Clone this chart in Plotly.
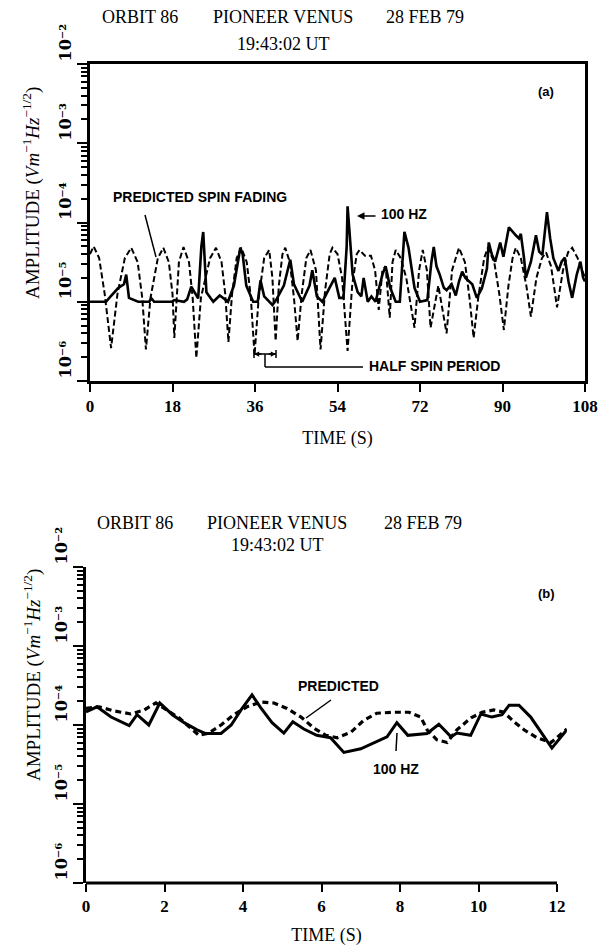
import plotly.graph_objects as go

# ---------------- data ----------------
# Panel (a): 0-108 s
time_pred_a = [0.0, 0.8, 2.0, 3.2, 4.6, 6.0, 7.6, 9.0, 10.4, 11.4, 12.2, 13.2, 14.8, 16.0, 17.2, 18.0,
               18.4, 18.8, 19.4, 20.4, 21.6, 22.4, 23.2, 24.2, 26.2, 27.5, 28.7, 29.5, 30.2, 31.0, 32.0,
               33.0, 34.2, 35.1, 35.9, 36.8, 38.0, 39.1, 39.8, 40.5, 41.2, 42.0, 42.6, 43.6, 44.5, 45.3,
               46.2, 47.2, 48.1, 49.3, 50.3, 51.3, 52.3, 52.9, 54.0, 55.0, 56.2, 57.2, 58.2, 58.8, 60.0,
               61.3, 62.2, 63.0, 63.8, 64.5, 65.4, 66.0, 66.7, 67.8, 69.0, 70.8, 71.8, 72.6, 73.5, 74.3,
               76.0, 77.8, 79.0, 80.5, 81.8, 82.8, 83.7, 84.7, 86.0, 86.8, 88.2, 89.3, 90.3, 91.3, 92.2,
               92.9, 94.0, 95.2, 96.2, 97.4, 98.6, 99.5, 100.6, 101.9, 103.2, 104.3, 105.2, 106.4, 108.0]
amp_pred_a = [4.0e-5, 5.0e-5, 3.55e-5, 1.26e-5, 2.6e-6, 1.26e-5, 3.55e-5, 4.8e-5, 3.16e-5, 1.12e-5,
              2.5e-6, 1.12e-5, 3.55e-5, 4.8e-5, 3.16e-5, 1.26e-5, 3.5e-6, 1.0e-5, 3.16e-5, 4.9e-5,
              3.16e-5, 1.12e-5, 1.95e-6, 1.12e-5, 3.55e-5, 4.8e-5, 3.16e-5, 1.26e-5, 3.1e-6, 1.26e-5,
              3.55e-5, 4.8e-5, 3.16e-5, 1.12e-5, 2.1e-6, 1.12e-5, 3.55e-5, 4.5e-5, 2.0e-5, 3.2e-6,
              1.6e-5, 4.0e-5, 4.8e-5, 3.16e-5, 1.12e-5, 3.2e-6, 1.26e-5, 3.55e-5, 4.5e-5, 2.5e-5,
              2.5e-6, 1.4e-5, 4.0e-5, 4.8e-5, 4.0e-5, 2.0e-5, 2.4e-6, 1.6e-5, 4.0e-5, 4.5e-5,
              3.8e-5, 3.8e-5, 2.5e-5, 7.9e-6, 2.5e-5, 2.8e-5, 6.3e-6, 3.16e-5, 4.5e-5, 3.55e-5,
              2.0e-5, 4.7e-6, 2.5e-5, 4.5e-5, 2.5e-5, 4.7e-6, 1.6e-5, 4.0e-6, 2.5e-5, 4.8e-5,
              3.16e-5, 1.12e-5, 3.5e-6, 1.12e-5, 3.55e-5, 4.8e-5, 3.16e-5, 1.26e-5, 4.4e-6, 1.6e-5,
              3.55e-5, 4.8e-5, 3.55e-5, 1.6e-5, 6.5e-6, 2.0e-5, 3.55e-5, 4.2e-5, 2.8e-5, 8.5e-6,
              2.5e-5, 4.2e-5, 4.8e-5, 3.55e-5, 2.0e-5]

time_meas_a = [0.0, 3.5, 4.5, 6.1, 7.4, 7.9, 8.5, 10.5, 12.9, 13.4, 14.0, 17.8, 18.4, 20.5, 21.2, 22.1,
               23.6, 24.3, 24.7, 25.4, 26.9, 28.3, 29.2, 30.1, 31.4, 32.8, 33.3, 34.1, 35.6, 36.6, 37.2,
               38.0, 39.8, 40.6, 42.3, 43.7, 44.5, 46.3, 47.9, 48.5, 49.5, 50.7, 52.0, 53.4, 54.4, 55.3,
               56.0, 56.2, 56.6, 57.3, 58.4, 59.2, 59.7, 60.6, 61.4, 62.3, 63.8, 64.5, 65.5, 66.7, 67.6,
               68.3, 68.6, 69.5, 70.8, 72.0, 73.6, 74.5, 75.0, 75.6, 76.3, 77.2, 77.8, 78.9, 79.8, 80.5,
               81.2, 81.9, 83.4, 84.4, 85.5, 86.6, 87.0, 87.7, 88.4, 89.5, 90.2, 91.4, 92.2, 92.9, 93.6,
               94.0, 94.7, 95.1, 96.2, 97.3, 98.0, 98.7, 99.7, 100.4, 101.1, 102.2, 102.9, 103.6, 104.4,
               105.2, 106.2, 107.0, 107.6, 108.0]
amp_meas_a = [1.0e-5, 1.0e-5, 1.17e-5, 1.48e-5, 1.66e-5, 2.2e-5, 1.12e-5, 1.0e-5, 1.0e-5, 1.1e-5,
              1.0e-5, 1.0e-5, 1.05e-5, 1.0e-5, 1.07e-5, 1.55e-5, 1.1e-5, 5.0e-5, 7.6e-5, 1.32e-5,
              1.0e-5, 1.2e-5, 1.1e-5, 1.0e-5, 1.6e-5, 4.8e-5, 4.0e-5, 1.6e-5, 1.0e-5, 1.0e-5,
              1.86e-5, 1.17e-5, 9.1e-6, 1.05e-5, 1.6e-5, 3.4e-5, 1.66e-5, 1.0e-5, 1.6e-5, 2.5e-5,
              1.17e-5, 1.0e-5, 1.4e-5, 2.0e-5, 1.12e-5, 1.12e-5, 5.0e-5, 1.6e-4, 7.9e-5, 2.2e-5,
              1.32e-5, 1.17e-5, 2.0e-5, 1.0e-5, 1.17e-5, 1.0e-5, 2.2e-5, 2.8e-5, 1.5e-5, 1.0e-5,
              1.0e-5, 5.0e-5, 7.6e-5, 4.8e-5, 1.5e-5, 1.0e-5, 1.05e-5, 3.2e-5, 4.9e-5, 2.8e-5,
              2.2e-5, 1.5e-5, 1.4e-5, 1.66e-5, 1.2e-5, 1.8e-5, 2.4e-5, 2.0e-5, 1.66e-5, 1.12e-5,
              1.48e-5, 2.6e-5, 5.6e-5, 3.9e-5, 3.2e-5, 5.6e-5, 3.7e-5, 8.7e-5, 7.6e-5, 6.9e-5,
              6.3e-5, 7.2e-5, 3.55e-5, 2.0e-5, 3.2e-5, 6.9e-5, 4.3e-5, 3.9e-5, 1.35e-4, 6.3e-5,
              3.55e-5, 2.45e-5, 3.2e-5, 3.6e-5, 1.8e-5, 1.12e-5, 2.2e-5, 3.2e-5, 2.0e-5, 1.8e-5]

# Panel (b): 0-12 s
time_meas_b = [0.0, 0.28, 0.64, 1.1, 1.3, 1.6, 1.88, 2.2, 2.5, 2.83, 3.05, 3.44, 3.7, 3.95, 4.23, 4.45,
               4.74, 5.04, 5.27, 5.55, 5.88, 6.23, 6.57, 7.0, 7.67, 7.92, 8.2, 8.69, 8.99, 9.3, 9.45,
               9.8, 10.06, 10.34, 10.6, 10.78, 11.03, 11.33, 11.87, 12.25]
amp_meas_b = [1.46e-4, 1.7e-4, 1.26e-4, 9.8e-5, 1.35e-4, 1.0e-4, 1.9e-4, 1.35e-4, 1.07e-4, 8.7e-5,
              7.8e-5, 7.8e-5, 1.0e-4, 1.55e-4, 2.4e-4, 1.66e-4, 1.07e-4, 7.9e-5, 1.1e-4, 8.9e-5,
              7.4e-5, 6.9e-5, 4.5e-5, 5.0e-5, 7.1e-5, 1.07e-4, 7.4e-5, 7.8e-5, 1.02e-4, 7.1e-5,
              7.9e-5, 7.4e-5, 1.38e-4, 1.26e-4, 1.35e-4, 1.78e-4, 1.78e-4, 1.26e-4, 5.1e-5, 8.7e-5]

time_pred_b = [0.0, 0.33, 0.71, 1.14, 1.48, 1.78, 2.06, 2.37, 2.67, 2.88, 3.13, 3.44, 3.77, 4.1, 4.46,
               4.79, 5.12, 5.48, 5.81, 6.11, 6.4, 6.75, 7.08, 7.41, 7.85, 8.23, 8.53, 8.69, 8.94, 9.2,
               9.45, 9.81, 10.09, 10.39, 10.65, 10.9, 11.16, 11.49, 11.85, 12.25]
amp_pred_b = [1.62e-4, 1.7e-4, 1.51e-4, 1.38e-4, 1.55e-4, 1.9e-4, 1.55e-4, 1.23e-4, 9.1e-5, 7.4e-5,
              7.9e-5, 1.0e-4, 1.35e-4, 1.7e-4, 1.95e-4, 1.9e-4, 1.62e-4, 1.26e-4, 9.1e-5, 7.4e-5,
              6.9e-5, 8.1e-5, 1.15e-4, 1.41e-4, 1.45e-4, 1.45e-4, 1.26e-4, 8.7e-5, 6.5e-5, 6.0e-5,
              8.7e-5, 1.23e-4, 1.45e-4, 1.55e-4, 1.45e-4, 1.1e-4, 8.7e-5, 6.9e-5, 6.0e-5, 8.9e-5]

x_ticks_a = [0, 18, 36, 54, 72, 90, 108]
x_ticks_b = [0, 2, 4, 6, 8, 10, 12]
y_ticks = [1e-6, 1e-5, 1e-4, 1e-3, 1e-2]
y_ticktext = ["10⁻⁶", "10⁻⁵", "10⁻⁴", "10⁻³", "10⁻²"]
y_minor = [m * d for d in y_ticks[:-1] for m in range(2, 10)]

# ---------------- layout helpers ----------------
W, H = 609, 946
def P(x):  # page pixel x -> paper
    return x / W
def Q(y):  # page pixel y -> paper
    return 1 - y / H

SERIF = "Liberation Serif"
SANS = "Liberation Sans"
BLACK = "black"

fig = go.Figure()
fig.add_trace(go.Scatter(x=time_pred_a, y=amp_pred_a, mode="lines", xaxis="x", yaxis="y",
                         line=dict(color=BLACK, width=2, dash="6px,3px"), name="PREDICTED SPIN FADING"))
fig.add_trace(go.Scatter(x=time_meas_a, y=amp_meas_a, mode="lines", xaxis="x", yaxis="y",
                         line=dict(color=BLACK, width=2.6), name="100 HZ"))
fig.add_trace(go.Scatter(x=time_pred_b, y=amp_pred_b, mode="lines", xaxis="x2", yaxis="y2",
                         line=dict(color=BLACK, width=3.2, dash="6px,4px"), name="PREDICTED"))
fig.add_trace(go.Scatter(x=time_meas_b, y=amp_meas_b, mode="lines", xaxis="x2", yaxis="y2",
                         line=dict(color=BLACK, width=3), name="100 HZ (b)"))

tickfont = dict(family=SERIF, size=17, color=BLACK, weight="bold")
common_y = dict(type="log", range=[-6, -2], tickmode="array", tickvals=y_ticks, ticktext=y_ticktext,
                tickangle=-90, ticklabelshift=-19, ticks="outside", ticklen=10, tickwidth=2,
                tickcolor=BLACK, showline=True, linewidth=3, linecolor=BLACK, showgrid=False,
                zeroline=False, automargin=False,
                tickfont=dict(family="DejaVu Serif", size=16, color=BLACK, weight="bold"),
                minor=dict(tickmode="array", tickvals=y_minor, ticks="outside", ticklen=6,
                           tickwidth=1.5, tickcolor=BLACK, showgrid=False))

b_right = 86 + 12.25 * 39.25
xtitle_font = dict(family=SERIF, size=18, color=BLACK)

fig.update_layout(
    width=W, height=H, margin=dict(l=0, r=0, t=0, b=0, autoexpand=False),
    paper_bgcolor="white", plot_bgcolor="white", showlegend=False,
    xaxis=dict(domain=[P(90), P(585)], range=[0, 108], anchor="y", tickmode="array", tickvals=x_ticks_a,
               ticks="outside", ticklen=8, tickwidth=2, tickcolor=BLACK, showline=True, linewidth=3,
               linecolor=BLACK, mirror=True, showgrid=False, zeroline=False, tickfont=tickfont,
               automargin=False,
               title=dict(text="TIME (S)", font=xtitle_font, standoff=16)),
    yaxis=dict(domain=[Q(381), Q(64)], anchor="x", mirror=True, **common_y),
    xaxis2=dict(domain=[P(86), P(b_right)], range=[0, 12.25], anchor="y2", tickmode="array",
                tickvals=x_ticks_b, ticks="outside", ticklen=8, tickwidth=2, tickcolor=BLACK,
                showline=False, showgrid=False, zeroline=False, tickfont=tickfont,
                automargin=False,
                title=dict(text="TIME (S)", font=xtitle_font, standoff=16)),
    yaxis2=dict(domain=[Q(883), Q(567)], anchor="x2", **common_y),
)

def seg(x0, y0, x1, y1, w=1.5):
    return dict(type="line", xref="paper", yref="paper", x0=P(x0), x1=P(x1), y0=Q(y0), y1=Q(y1),
                line=dict(color=BLACK, width=w))

shapes = [
    # bottom axis line of panel (b), ending at 12 s
    dict(type="line", xref="x2", yref="paper", x0=0, x1=12, y0=Q(883), y1=Q(883),
         line=dict(color=BLACK, width=3)),
    # half spin period bracket
    seg(254, 354, 276, 354), seg(254, 350, 254, 358), seg(276, 350, 276, 358),
    seg(265, 354, 265, 367), seg(265, 367, 363, 367),
    # pointer lines
    seg(145, 215, 156, 257),
    seg(331, 700, 306, 718),
    seg(396, 751, 397, 733),
]
fig.update_layout(shapes=shapes)

def text(x, y, s, family=SERIF, size=18, xanchor="center", bold=False, angle=0):
    return dict(xref="paper", yref="paper", x=P(x), y=Q(y), text=s, showarrow=False,
                xanchor=xanchor, yanchor="middle", textangle=angle,
                font=dict(family=family, size=size, color=BLACK, weight="bold" if bold else "normal"))

def arrow(hx, hy, tx, ty, head=2, size=1.0, width=1.5):
    return dict(xref="paper", yref="paper", x=P(hx), y=Q(hy), ax=tx - hx, ay=ty - hy, text=" ",
                showarrow=True, arrowhead=head, arrowsize=size, arrowwidth=width, arrowcolor=BLACK,
                font=dict(size=1))

ytitle = "AMPLITUDE (<i>Vm</i><sup>−1</sup><i>Hz</i><sup>−1/2</sup>)"
ann = [
    # panel (a) header
    text(140, 17, "ORBIT 86"), text(283, 17, "PIONEER VENUS"), text(425, 17, "28 FEB 79"),
    text(283, 44, "19:43:02 UT"),
    # panel (b) header
    text(135, 523, "ORBIT 86"), text(277, 523, "PIONEER VENUS"), text(423, 523, "28 FEB 79"),
    text(277, 545, "19:43:02 UT"),
    # y titles
    text(32, 193, ytitle, size=19, angle=-90), text(32, 675, ytitle, size=19, angle=-90),
    # panel labels
    text(546, 92, "(a)", family=SANS, size=13, bold=True),
    text(546, 593, "(b)", family=SANS, size=13, bold=True),
    # panel (a) annotations
    text(200, 197, "PREDICTED SPIN FADING", family=SANS, size=14, bold=True),
    text(379, 214, "100 HZ", family=SANS, size=14, bold=True, xanchor="left"),
    arrow(357, 216, 377, 216, size=1.0),
    text(367, 366, "HALF SPIN PERIOD", family=SANS, size=14, bold=True, xanchor="left"),
    arrow(254, 354, 263, 354, size=0.7),
    arrow(276, 354, 267, 354, size=0.7),
    # panel (b) annotations
    text(338, 686, "PREDICTED", family=SANS, size=14, bold=True),
    text(396, 769, "100 HZ", family=SANS, size=14, bold=True),
]
fig.update_layout(annotations=ann)

fig.write_html("out.html", config={"displayModeBar": False},
               post_script="document.body.style.margin='0';document.body.style.overflow='hidden';")
